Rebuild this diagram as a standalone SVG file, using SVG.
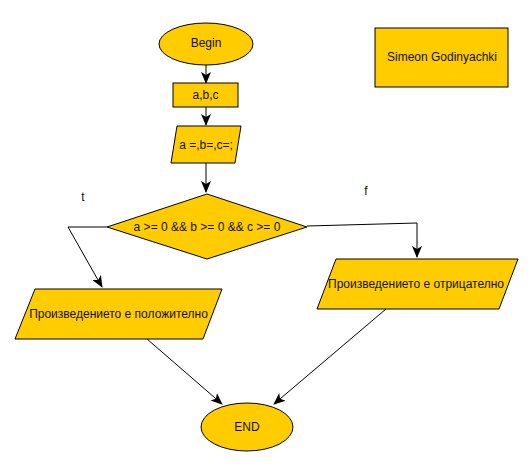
<svg xmlns="http://www.w3.org/2000/svg" width="532" height="467" viewBox="0 0 532 467">
  <style>
    .shape { fill: #ffcc00; stroke: #000; stroke-width: 1; }
    .label { font-family: "Liberation Sans", Arial, sans-serif; font-size: 12px; fill: #111; text-anchor: middle; dominant-baseline: central; }
    .edge { fill: none; stroke: #000; stroke-width: 1; marker-end: url(#arrow); }
  </style>
  <defs>
    <marker id="arrow" viewBox="0 0 12 10" refX="11" refY="5" markerWidth="12" markerHeight="10" markerUnits="userSpaceOnUse" orient="auto">
      <path d="M0,0 L12,5 L0,10 L3,5 z" fill="#000"/>
    </marker>
  </defs>
  <rect width="532" height="467" fill="#fff"/>

  <g id="connectors">
    <line class="edge" x1="206" y1="65" x2="206" y2="83"/>
    <line class="edge" x1="206" y1="107" x2="206" y2="125"/>
    <line class="edge" x1="206" y1="163" x2="206" y2="192"/>
    <polyline class="edge" points="107,227 68,227 102,287"/>
    <polyline class="edge" points="307,226 417,223 417,257"/>
    <line class="edge" x1="147" y1="339" x2="222" y2="404"/>
    <line class="edge" x1="386" y1="309" x2="274" y2="404"/>
    <text class="label" x="83" y="197">t</text>
    <text class="label" x="366" y="191">f</text>
  </g>

  <g id="begin">
    <ellipse class="shape" cx="206" cy="44" rx="47" ry="21"/>
    <text class="label" x="206" y="43">Begin</text>
  </g>

  <g id="input">
    <rect class="shape" x="173" y="83" width="65" height="24"/>
    <text class="label" x="205.5" y="95">a,b,c</text>
  </g>

  <g id="assign">
    <polygon class="shape" points="177,126 241,126 235,163 171,163"/>
    <text class="label" x="206" y="144.5">a =,b=,c=;</text>
  </g>

  <g id="condition">
    <polygon class="shape" points="207,194 307,227 207,259 107,227"/>
    <text class="label" x="207" y="227">a &gt;= 0 &amp;&amp; b &gt;= 0 &amp;&amp; c &gt;= 0</text>
  </g>

  <g id="positive">
    <polygon class="shape" points="35,289 222,289 203,339 15,339"/>
    <text class="label" x="118.5" y="314">Произведението е положително</text>
  </g>

  <g id="negative">
    <polygon class="shape" points="336,259 518,259 499,309 317,309"/>
    <text class="label" x="416" y="284">Произведението е отрицателно</text>
  </g>

  <g id="end">
    <ellipse class="shape" cx="247" cy="427" rx="46" ry="24"/>
    <text class="label" x="247" y="427">END</text>
  </g>

  <g id="author">
    <rect class="shape" x="375" y="28" width="133" height="59"/>
    <text class="label" x="442" y="57">Simeon Godinyachki</text>
  </g>
</svg>
